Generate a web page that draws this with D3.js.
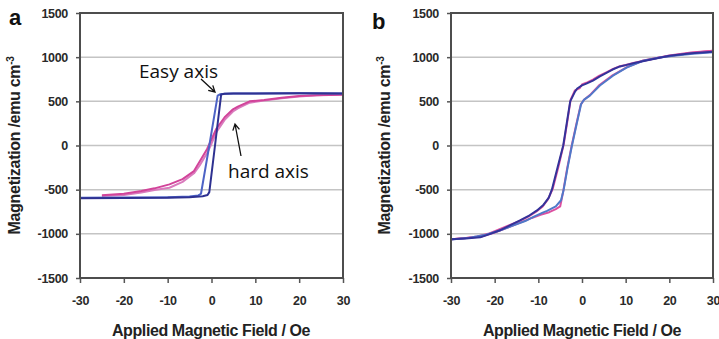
<!DOCTYPE html>
<html>
<head>
<meta charset="utf-8">
<script src="https://cdn.jsdelivr.net/npm/d3@7"></script>
<style>
  body { margin: 0; background: #fff; }
  svg { display: block; }
  .tick text { font-family: "Liberation Sans", Arial, sans-serif; font-size: 12.5px; font-weight: bold; fill: #2a2a2a; letter-spacing: -0.3px; }
</style>
</head>
<body>
<svg id="chart" width="719" height="339"></svg>
<script>
// ---- data (field in Oe, magnetization in emu cm^-3) ----
const xTicks = [-30, -20, -10, 0, 10, 20, 30];
const yTicks = [-1500, -1000, -500, 0, 500, 1000, 1500];

// panel a, easy axis
const easyDown = [[30,590],[20,592],[10,590],[5,589],[3,587],[2,580],[1.4,565],[-0.5,0],[-2.4,-546],[-3,-565],[-5,-578],[-10,-585],[-20,-590],[-30,-592]];
const easyUp = [[-30,-598],[-20,-595],[-10,-592],[-5,-585],[-2,-575],[-0.9,-560],[-0.5,-528],[0.8,0],[2.2,577],[3,585],[5,588],[10,590],[20,592],[30,590]];
// panel a, hard axis
const hardDown = [[30,575],[24,570],[20,560],[16,540],[12,515],[8.7,500],[6,440],[4.9,410],[3,320],[1.1,190],[0,70],[-1,-40],[-2.7,-180],[-4,-290],[-6.6,-380],[-9.6,-440],[-13,-485],[-16,-515],[-20,-545],[-25,-562]];
const hardUp = [[-25,-572],[-20,-560],[-16,-532],[-13,-505],[-9.6,-478],[-6.6,-412],[-4,-315],[-2.7,-225],[-1,-85],[0,20],[1.1,150],[3,290],[4.9,385],[6,420],[8.7,485],[12,508],[16,535],[20,555],[24,568],[30,580]];

// panel b, two measurements
const blueDown = [[30,1060],[25,1045],[20,1015],[15,965],[12,935],[10,910],[8.7,895],[7,860],[5.7,826],[4,780],[2.5,735],[1,700],[0,680],[-1.1,645],[-1.6,610],[-2.7,500],[-3.5,250],[-4.3,0],[-5.6,-250],[-6.9,-500],[-7.6,-590],[-8.8,-670],[-10.3,-735],[-12,-790],[-14.2,-848],[-16.5,-905],[-18.8,-960],[-21,-1000],[-23.3,-1040],[-26,-1050],[-30,-1062]];
const blueUp = [[-30,-1065],[-26,-1048],[-22,-1010],[-19,-965],[-16,-910],[-13,-855],[-11,-805],[-9,-760],[-8,-740],[-6,-690],[-4.8,-620],[-4.2,-500],[-3.3,-250],[-2.3,0],[-1.2,250],[-0.2,470],[0.5,520],[1.8,565],[4.1,680],[7.1,790],[10.3,885],[14,960],[17.8,995],[21,1015],[25.4,1040],[30,1055]];
const pinkDown = [[30,1072],[25,1052],[20,1020],[15,968],[12,938],[10,912],[8.7,898],[7,865],[5.7,830],[4,790],[2.5,745],[1,710],[0,690],[-0.5,650],[-1.6,625],[-2.6,520],[-3.4,260],[-4.2,10],[-5.4,-240],[-6.7,-490],[-7.8,-610],[-9,-690],[-10.5,-750],[-12.3,-805],[-14.5,-860],[-16.5,-900],[-19,-950],[-21.5,-1000],[-24,-1030],[-27,-1050],[-30,-1060]];
const pinkUp = [[-30,-1060],[-27,-1050],[-23,-1030],[-20,-985],[-17,-930],[-14,-870],[-11.5,-820],[-9.5,-785],[-7.5,-755],[-6,-720],[-5,-690],[-4.3,-520],[-3.4,-260],[-2.4,-10],[-1.3,240],[-0.3,460],[0.4,515],[1.8,570],[4,685],[7,795],[10,880],[14,962],[18,1000],[21,1020],[25,1048],[30,1072]];

const svg = d3.select("#chart");
svg.append("rect").attr("width", 719).attr("height", 339).attr("fill", "#fff");

const plotTop = 13, plotBottom = 278;

function drawPanel(left, right, letter, letterX, letterY, titleX, ytitleX, series) {
  const x = d3.scaleLinear().domain([-30, 30]).range([left, right]);
  const y = d3.scaleLinear().domain([-1500, 1500]).range([plotBottom, plotTop]);
  const g = svg.append("g");

  // gridlines
  g.selectAll("line.grid")
    .data(yTicks.slice(1, -1))
    .enter().append("line")
    .attr("x1", left).attr("x2", right)
    .attr("y1", d => y(d)).attr("y2", d => y(d))
    .attr("stroke", "#c4c4c4").attr("stroke-width", 1.5);

  // axes
  const xa = g.append("g").attr("transform", `translate(0,${plotBottom})`)
    .call(d3.axisBottom(x).tickValues(xTicks).tickFormat(d => String(d))
      .tickSize(5).tickSizeOuter(0).tickPadding(13));
  const ya = g.append("g").attr("transform", `translate(${left},0)`)
    .call(d3.axisLeft(y).tickValues(yTicks).tickFormat(d => String(d))
      .tickSize(4).tickSizeOuter(0).tickPadding(8));
  [xa, ya].forEach(a => {
    a.select(".domain").remove();
    a.selectAll(".tick line").attr("stroke", "#555").attr("stroke-width", 1.5);
  });

  // curves
  const line = d3.line().x(d => x(d[0])).y(d => y(d[1]));
  series.forEach(s => {
    g.append("path").datum(s.data)
      .attr("d", line)
      .attr("fill", "none")
      .attr("stroke", s.color)
      .attr("stroke-width", 2)
      .attr("stroke-linejoin", "round");
  });

  // plot border
  g.append("rect")
    .attr("x", left).attr("y", plotTop)
    .attr("width", right - left).attr("height", plotBottom - plotTop)
    .attr("fill", "none").attr("stroke", "#4d4d4d").attr("stroke-width", 2);

  // titles
  g.append("text")
    .attr("x", titleX).attr("y", 336)
    .attr("text-anchor", "middle")
    .style("font-family", "Liberation Sans, Arial, sans-serif")
    .style("font-weight", "bold").style("font-size", "16px")
    .style("letter-spacing", "-0.4px")
    .attr("fill", "#222")
    .text("Applied Magnetic Field / Oe");

  const yt = g.append("text")
    .attr("transform", `translate(${ytitleX},${(plotTop + plotBottom) / 2}) rotate(-90)`)
    .attr("text-anchor", "middle")
    .style("font-family", "Liberation Sans, Arial, sans-serif")
    .style("font-weight", "bold").style("font-size", "16px")
    .style("letter-spacing", "-0.3px")
    .attr("fill", "#222");
  yt.append("tspan").text("Magnetization /emu cm");
  yt.append("tspan").attr("dy", -6).style("font-size", "10px").text("-3");

  g.append("text")
    .attr("x", letterX).attr("y", letterY)
    .style("font-family", "Liberation Sans, Arial, sans-serif")
    .style("font-weight", "bold").style("font-size", "22px")
    .attr("fill", "#111")
    .text(letter);

  return {x, y};
}

drawPanel(80, 343, "a", 9, 25, 211, 20, [
  {data: hardUp, color: "#d97bbd"},
  {data: hardDown, color: "#d2449a"},
  {data: easyDown, color: "#4d63c6"},
  {data: easyUp, color: "#2e3191"}
]);

drawPanel(451, 713, "b", 372, 29, 582, 390, [
  {data: pinkDown, color: "#dc4fa0"},
  {data: pinkUp, color: "#dc4fa0"},
  {data: blueUp, color: "#4f79c9"},
  {data: blueDown, color: "#33339a"}
]);

// annotations in panel a
function arrow(x1, y1, x2, y2) {
  const a = Math.atan2(y2 - y1, x2 - x1), h = 7, w = 0.5;
  svg.append("path")
    .attr("d", `M${x1},${y1}L${x2},${y2}` +
      `M${x2 - h * Math.cos(a - w)},${y2 - h * Math.sin(a - w)}L${x2},${y2}` +
      `L${x2 - h * Math.cos(a + w)},${y2 - h * Math.sin(a + w)}`)
    .attr("fill", "none").attr("stroke", "#111").attr("stroke-width", 1.3);
}
const note = (t, xx, yy) => svg.append("text")
  .attr("x", xx).attr("y", yy)
  .style("font-family", "Open Sans, sans-serif").style("font-size", "19px")
  .attr("fill", "#111").text(t);

note("Easy axis", 139, 78);
arrow(201, 79, 215, 92);
note("hard axis", 228, 178);
arrow(241, 156, 235, 124);
</script>
</body>
</html>
